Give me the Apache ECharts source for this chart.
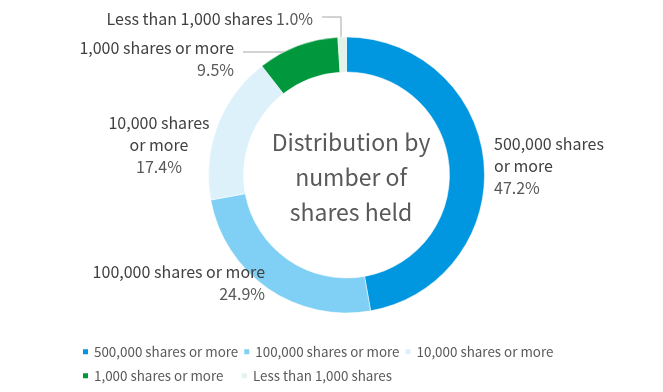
<!DOCTYPE html>
<html>
<head>
<meta charset="utf-8">
<script src="https://cdn.jsdelivr.net/npm/echarts@6/dist/echarts.min.js"></script>
<style>html,body{margin:0;padding:0;background:#fff;}#c{width:663px;height:392px;}</style>
</head>
<body>
<div id="c"></div>
<script>
var categories = ['500,000 shares or more','100,000 shares or more','10,000 shares or more','1,000 shares or more','Less than 1,000 shares'];
var values = [47.2, 24.9, 17.4, 9.5, 1.0];
var labelNames = [['500,000 shares','or more'],['100,000 shares or more'],['10,000 shares','or more'],['1,000 shares or more'],['Less than 1,000 shares']];
var colors = ['#0096E0','#80CFF4','#DDF1FA','#00973D','#E2F3E8'];
var centerTitle = 'Distribution by\nnumber of\nshares held';

var FONT = '"Noto Sans CJK JP", "Noto Sans", sans-serif';
var aligns = ['left','right','center','right','right'];
var labelPos = [[494,166],[265,283],[159,145],[234,59],[313,19]];
var linePts = {3: [[243,52],[296,52],[296,60]], 4: [[322,17],[341,17],[341,45]]};

function pct(v){ return v.toFixed(1) + '%'; }

var data = categories.map(function(c,i){
  var parts = labelNames[i].map(function(t){ return '{n|' + t + '}'; });
  var fmt;
  if (i === 4) fmt = '{n|' + labelNames[i][0] + '} {p|' + pct(values[i]) + '}';
  else fmt = parts.join('\n') + '\n{p|' + pct(values[i]) + '}';
  return {
    name: c, value: values[i],
    itemStyle: {color: colors[i]},
    label: {
      formatter: fmt,
      align: aligns[i],
      rich: {
        n: {fontSize: 16, color: '#404040', fontFamily: FONT, lineHeight: 22, align: aligns[i]},
        p: {fontSize: 16, color: '#595959', fontFamily: FONT, lineHeight: 22, align: aligns[i]}
      }
    },
    labelLine: {show: (i >= 3)}
  };
});

var chart = echarts.init(document.getElementById('c'), null, {renderer: 'canvas'});
var legendText = {fontSize: 13.4, color: '#595959', fontFamily: FONT};
chart.setOption({
  animation: false,
  backgroundColor: '#ffffff',
  title: {
    text: centerTitle,
    left: 346, top: 120,
    textAlign: 'center',
    textStyle: {fontSize: 23, fontWeight: 'normal', color: '#595959', fontFamily: FONT, lineHeight: 35}
  },
  legend: [
    {data: categories.slice(0,3), left: 81, top: 345, icon: 'rect', itemWidth: 7, itemHeight: 7, itemGap: 4, textStyle: legendText, padding: 0},
    {data: categories.slice(3,4), left: 81, top: 369, icon: 'rect', itemWidth: 7, itemHeight: 7, textStyle: legendText, padding: 0},
    {data: categories.slice(4,5), left: 240, top: 369, icon: 'rect', itemWidth: 7, itemHeight: 7, textStyle: legendText, padding: 0}
  ],
  series: [{
    type: 'pie',
    center: [346.5, 175],
    radius: [103, 138],
    startAngle: 90,
    clockwise: true,
    avoidLabelOverlap: false,
    itemStyle: {borderColor: '#ffffff', borderWidth: 0.5},
    label: {show: true, position: 'outside'},
    labelLine: {lineStyle: {color: '#A6A6A6', width: 1}},
    labelLayout: function(p){
      var i = p.dataIndex;
      var r = {x: labelPos[i][0], y: labelPos[i][1], align: aligns[i], verticalAlign: 'middle'};
      if (linePts[i]) r.labelLinePoints = linePts[i];
      return r;
    },
    emphasis: {disabled: true},
    data: data
  }]
});
</script>
</body>
</html>
